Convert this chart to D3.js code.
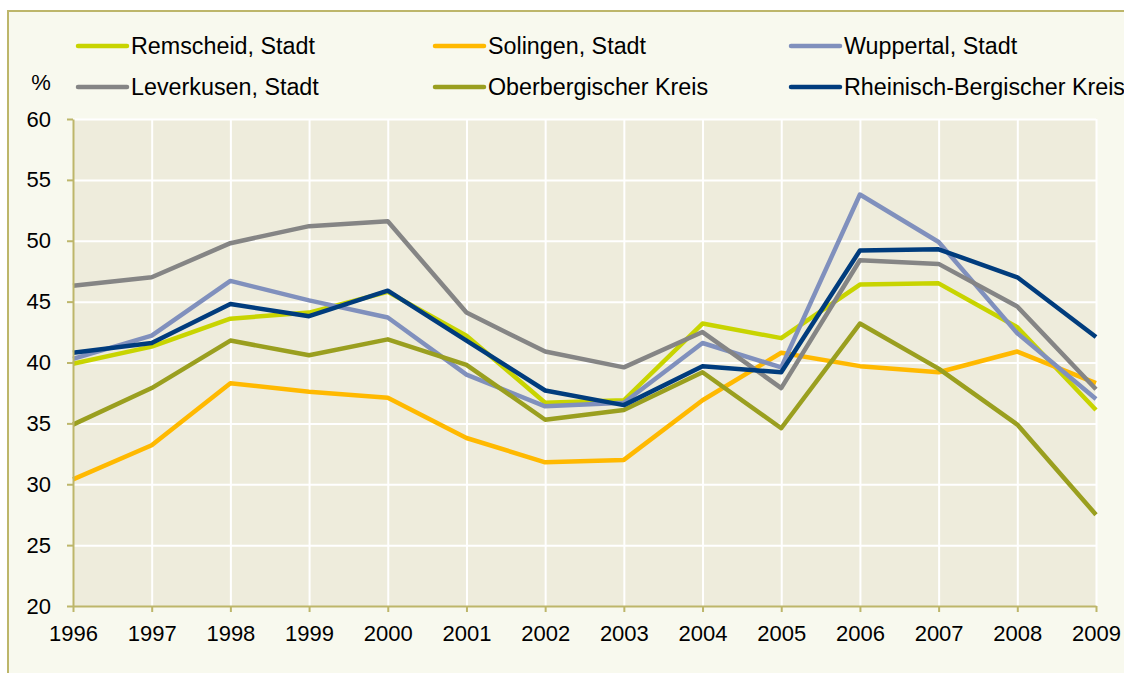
<!DOCTYPE html>
<html>
<head>
<meta charset="utf-8">
<script src="https://cdn.jsdelivr.net/npm/d3@7"></script>
<style>
  html, body { margin: 0; padding: 0; background: #ffffff; overflow: hidden; width: 1124px; height: 673px; }
  svg { display: block; overflow: hidden; font-family: "Liberation Sans", Arial, sans-serif; }
</style>
</head>
<body>
<svg id="chart" width="1124" height="673"></svg>
<script>
const years = [1996, 1997, 1998, 1999, 2000, 2001, 2002, 2003, 2004, 2005, 2006, 2007, 2008, 2009];
const yTicks = [20, 25, 30, 35, 40, 45, 50, 55, 60];

const remscheid  = [39.9, 41.3, 43.6, 44.1, 45.8, 42.2, 36.7, 36.9, 43.2, 42.0, 46.4, 46.5, 42.9, 36.1];
const solingen   = [30.4, 33.2, 38.3, 37.6, 37.1, 33.8, 31.8, 32.0, 36.9, 40.8, 39.7, 39.2, 40.9, 38.3];
const wuppertal  = [40.3, 42.2, 46.7, 45.1, 43.7, 39.0, 36.4, 36.7, 41.6, 39.6, 53.8, 49.9, 42.4, 37.0];
const leverkusen = [46.3, 47.0, 49.8, 51.2, 51.6, 44.1, 40.9, 39.6, 42.5, 37.9, 48.4, 48.1, 44.6, 37.8];
const oberberg   = [34.9, 37.9, 41.8, 40.6, 41.9, 39.8, 35.3, 36.1, 39.2, 34.6, 43.2, 39.5, 34.9, 27.5];
const rheinisch  = [40.8, 41.6, 44.8, 43.8, 45.9, 41.8, 37.7, 36.5, 39.7, 39.2, 49.2, 49.3, 47.0, 42.1];

const seriesNames = ["Remscheid, Stadt", "Solingen, Stadt", "Wuppertal, Stadt",
                     "Leverkusen, Stadt", "Oberbergischer Kreis", "Rheinisch-Bergischer Kreis"];
const seriesValues = [remscheid, solingen, wuppertal, leverkusen, oberberg, rheinisch];
const seriesColors = ["#c8d400", "#ffb900", "#8090bd", "#858585", "#9a9f1f", "#003c7d"];

(function () {
const svg = d3.select("#chart");
const pL = 73, pR = 1096, pT = 119, pB = 606;
const axisColor = "#bdb66a";
const fontSize = 22;

// outer frame: panel fill plus left and top border only (it runs past the right and bottom edges)
svg.append("rect").attr("x", 8).attr("y", 11).attr("width", 1124 - 8).attr("height", 673 - 11)
  .attr("fill", "#f8f9ee");
svg.append("path").attr("d", "M8,673V11H1124")
  .attr("fill", "none").attr("stroke", axisColor).attr("stroke-width", 2);

const x = d3.scaleLinear().domain([years[0], years[years.length - 1]]).range([pL, pR]);
const y = d3.scaleLinear().domain([20, 60]).range([pB, pT]);

// plot background
svg.append("rect").attr("x", pL).attr("y", pT).attr("width", pR - pL).attr("height", pB - pT)
  .attr("fill", "#eeecdc");

// grid
const gridX = svg.append("g").attr("transform", `translate(0,${pB})`)
  .call(d3.axisBottom(x).tickValues(years.slice(1)).tickSize(-(pB - pT)).tickFormat(""));
const gridY = svg.append("g").attr("transform", `translate(${pL},0)`)
  .call(d3.axisLeft(y).tickValues(yTicks.slice(1)).tickSize(-(pR - pL)).tickFormat(""));
[gridX, gridY].forEach(g => {
  g.select(".domain").remove();
  g.selectAll("line").attr("stroke", "#ffffff").attr("stroke-width", 2);
});

// lines
const line = d3.line().x((d, i) => x(years[i])).y(d => y(d));
seriesValues.forEach((vals, k) => {
  svg.append("path").datum(vals).attr("d", line)
    .attr("fill", "none").attr("stroke", seriesColors[k]).attr("stroke-width", 4.5)
    .attr("stroke-linejoin", "round");
});

// axes
const xAxis = svg.append("g").attr("transform", `translate(0,${pB})`)
  .call(d3.axisBottom(x).tickValues(years).tickFormat(d3.format("d")).tickSize(6).tickPadding(13).tickSizeOuter(0));
const yAxis = svg.append("g").attr("transform", `translate(${pL},0)`)
  .call(d3.axisLeft(y).tickValues(yTicks).tickSize(6).tickPadding(16).tickSizeOuter(0));
[xAxis, yAxis].forEach(g => {
  g.select(".domain").attr("stroke", axisColor).attr("stroke-width", 2);
  g.selectAll(".tick line").attr("stroke", axisColor).attr("stroke-width", 2);
  g.selectAll(".tick text").attr("fill", "#000").style("font-size", fontSize + "px")
    .style("font-family", '"Liberation Sans", Arial, sans-serif');
});

// unit label
svg.append("text").attr("x", 41).attr("y", 90).attr("text-anchor", "middle")
  .style("font-size", fontSize + "px").text("%");

// legend
const legX = [78, 435, 791];
const legY = [46, 87];
seriesNames.forEach((name, k) => {
  const col = k % 3, row = Math.floor(k / 3);
  const g = svg.append("g").attr("transform", `translate(${legX[col]},${legY[row]})`);
  g.append("line").attr("x1", 0).attr("x2", 49).attr("y1", 0).attr("y2", 0)
    .attr("stroke", seriesColors[k]).attr("stroke-width", 4.5).attr("stroke-linecap", "round");
  g.append("text").attr("x", 53).attr("y", 8).style("font-size", "23.3px")
    .attr("fill", "#000").text(name);
});
})();
</script>
</body>
</html>
